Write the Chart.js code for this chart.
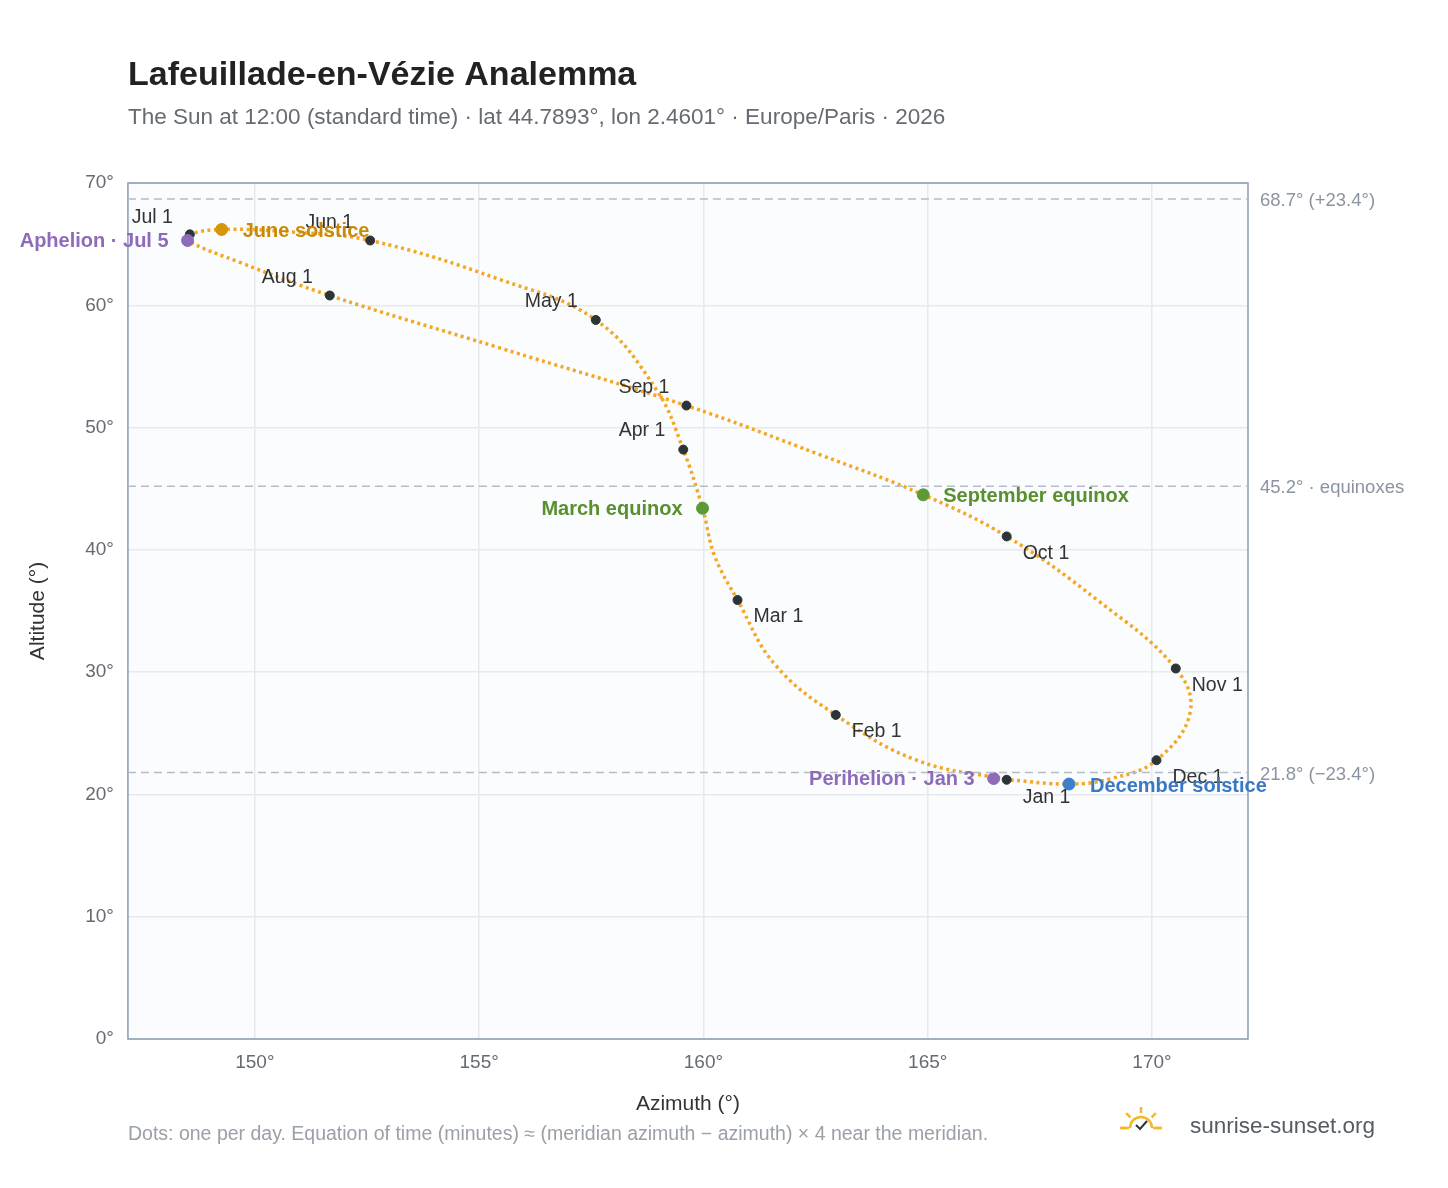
<!DOCTYPE html>
<html><head><meta charset="utf-8">
<script src="https://cdn.jsdelivr.net/npm/chart.js@4"></script>
<style>html,body{margin:0;padding:0;background:#fff}#w{position:relative;width:1448px;height:1188px}</style>
</head><body><div id="w"><canvas id="c" width="1448" height="1188"></canvas></div>
<script>
const pathAz  = [166.76,164.75,162.95,161.6,160.76,160.25,159.98,159.55,158.95,157.6,155.47,152.57,150.78,149.26,148.55,148.5,149.67,151.67,155.47,159.62,162.62,164.9,166.76,168.78,170.53,170.85,170.1,169.1,168.15,166.8];
const pathAlt = [21.2,22.8,26.5,30.6,35.9,39.5,43.4,48.2,53.1,58.8,62.1,65.3,66.0,66.2,65.8,65.3,63.5,60.8,56.5,51.8,47.75,44.5,41.1,35.9,30.3,26.7,22.8,21.3,20.85,21.2];
// Month markers
const monthLabels = ["Jan 1","Feb 1","Mar 1","Apr 1","May 1","Jun 1","Jul 1","Aug 1","Sep 1","Oct 1","Nov 1","Dec 1"];
const monthAz  = [166.76,162.95,160.76,159.55,157.6,152.57,148.55,151.67,159.62,166.76,170.53,170.1];
const monthAlt = [21.2,26.5,35.9,48.2,58.8,65.3,65.8,60.8,51.8,41.1,30.3,22.8];
// Special events
const eventLabels = ["Aphelion · Jul 5","June solstice","March equinox","September equinox","Perihelion · Jan 3","December solstice"];
const eventAz  = [148.5,149.26,159.98,164.9,166.47,168.15];
const eventAlt = [65.3,66.2,43.4,44.5,21.3,20.85];
const eventColors = ["#8e6bb8","#d4950f","#5b9a35","#5b9a35","#8e6bb8","#3d7fcf"];
const eventTextColors = ["#8e6bb8","#c98a0a","#5a8f2e","#5a8f2e","#8e6bb8","#3a78c2"];
// Reference lines
const refAlt = [68.7,45.2,21.8];
const refLabels = ["68.7° (+23.4°)","45.2° · equinoxes","21.8° (−23.4°)"];

const F='"Liberation Sans", Arial';
const monthOff = [[16,18,'left'],[16,17,'left'],[16,17,'left'],[-18,-19,'right'],[-18,-18,'right'],[-17,-18,'right'],[-17,-17,'right'],[-17,-18,'right'],[-17,-18,'right'],[16,17,'left'],[16,17,'left'],[16,17,'left']];
const eventOff = [[-19,1,'right'],[21,2,'left'],[-20,1,'right'],[20,2,'left'],[-19,1,'right'],[21,2,'left']];

const deco = {
  id:'deco',
  beforeDraw(ch){
    const {ctx,chartArea:a}=ch;
    ctx.save();ctx.fillStyle='#fafcfe';ctx.fillRect(a.left,a.top,a.right-a.left,a.bottom-a.top);ctx.restore();
  },
  afterDatasetsDraw(ch){
    const {ctx,chartArea:a,scales:{x,y}}=ch;
    ctx.save();
    ctx.strokeStyle='#8a9bb0';ctx.lineWidth=1.5;ctx.strokeRect(a.left,a.top,a.right-a.left,a.bottom-a.top);
    ctx.setLineDash([8,5]);ctx.strokeStyle='#b4bcc6';ctx.lineWidth=1.5;
    ctx.font='18.5px '+F;ctx.fillStyle='#8a94a0';ctx.textBaseline='middle';
    refAlt.forEach((v,i)=>{const py=y.getPixelForValue(v);ctx.beginPath();ctx.moveTo(a.left,py);ctx.lineTo(a.right,py);ctx.stroke();ctx.fillText(refLabels[i],a.right+12,py+2);});
    ctx.setLineDash([]);
    ctx.font='19.5px '+F;ctx.fillStyle='#333';
    monthLabels.forEach((t,i)=>{const o=monthOff[i];ctx.textAlign=o[2];ctx.fillText(t,x.getPixelForValue(monthAz[i])+o[0],y.getPixelForValue(monthAlt[i])+o[1]);});
    ctx.font='bold 20px '+F;
    eventLabels.forEach((t,i)=>{const o=eventOff[i];ctx.textAlign=o[2];ctx.fillStyle=eventTextColors[i];ctx.fillText(t,x.getPixelForValue(eventAz[i])+o[0],y.getPixelForValue(eventAlt[i])+o[1]);});
    ctx.restore();
  },
  afterDraw(ch){
    const ctx=ch.ctx;ctx.save();ctx.textAlign='left';ctx.textBaseline='alphabetic';
    ctx.fillStyle='#222';ctx.font='bold 34px '+F;ctx.fillText('Lafeuillade-en-Vézie Analemma',128,85);
    ctx.fillStyle='#666a72';ctx.font='22.5px '+F;ctx.fillText('The Sun at 12:00 (standard time) · lat 44.7893°, lon 2.4601° · Europe/Paris · 2026',128,124);
    ctx.fillStyle='#9aa0a8';ctx.font='19.5px '+F;ctx.fillText('Dots: one per day. Equation of time (minutes) ≈ (meridian azimuth − azimuth) × 4 near the meridian.',128,1140);
    ctx.fillStyle='#555b64';ctx.font='22.5px '+F;ctx.fillText('sunrise-sunset.org',1190,1133);
    ctx.strokeStyle='#f5b623';ctx.lineWidth=2.5;const cx=1141,cy=1128;
    ctx.beginPath();ctx.arc(cx,cy,11,Math.PI,2*Math.PI);ctx.stroke();
    for(let k=0;k<5;k++){const an=Math.PI+k*Math.PI/4;ctx.beginPath();ctx.moveTo(cx+15*Math.cos(an),cy+15*Math.sin(an));ctx.lineTo(cx+21*Math.cos(an),cy+21*Math.sin(an));ctx.stroke();}
    ctx.beginPath();ctx.moveTo(cx-20,cy);ctx.lineTo(cx-12,cy);ctx.moveTo(cx+12,cy);ctx.lineTo(cx+20,cy);ctx.stroke();
    ctx.strokeStyle='#333';ctx.lineWidth=2;ctx.beginPath();ctx.moveTo(cx-5,cy-3);ctx.lineTo(cx-1,cy+1);ctx.lineTo(cx+6,cy-7);ctx.stroke();
    ctx.restore();
  }
};

new Chart(document.getElementById('c'),{
  type:'scatter',
  data:{datasets:[
    {data:pathAz.map((v,i)=>({x:v,y:pathAlt[i]})),showLine:true,tension:0.4,borderColor:'#f5a623',borderWidth:3.5,borderDash:[3,3.5],pointRadius:0,order:3},
    {data:monthAz.map((v,i)=>({x:v,y:monthAlt[i]})),pointRadius:4.5,pointBackgroundColor:'#2d3436',pointBorderColor:'#2d3436',order:2},
    {data:eventAz.map((v,i)=>({x:v,y:eventAlt[i]})),pointRadius:6,pointBackgroundColor:eventColors,pointBorderColor:eventColors,order:1}
  ]},
  options:{
    responsive:false,animation:false,
    layout:{padding:{top:183,left:22,right:200,bottom:67}},
    plugins:{legend:{display:false},tooltip:{enabled:false}},
    scales:{
      x:{min:147.17,max:172.14,border:{display:false},grid:{color:'#e6e9ed',lineWidth:1.5,drawTicks:false},
         afterBuildTicks(s){s.ticks=[150,155,160,165,170].map(v=>({value:v}));},
         ticks:{padding:12,color:'#666a72',font:{size:19,family:F},callback:v=>v+'°'},
         title:{display:true,text:'Azimuth (°)',color:'#333',font:{size:21,family:F},padding:{top:6}}},
      y:{min:0,max:70,border:{display:false},grid:{color:'#e6e9ed',lineWidth:1.5,drawTicks:false},
         ticks:{stepSize:10,padding:14,color:'#666a72',font:{size:19,family:F},callback:v=>v+'°'},
         title:{display:true,text:'Altitude (°)',color:'#333',font:{size:21,family:F},padding:{bottom:20}}}
    }
  },
  plugins:[deco]
});
</script></body></html>
